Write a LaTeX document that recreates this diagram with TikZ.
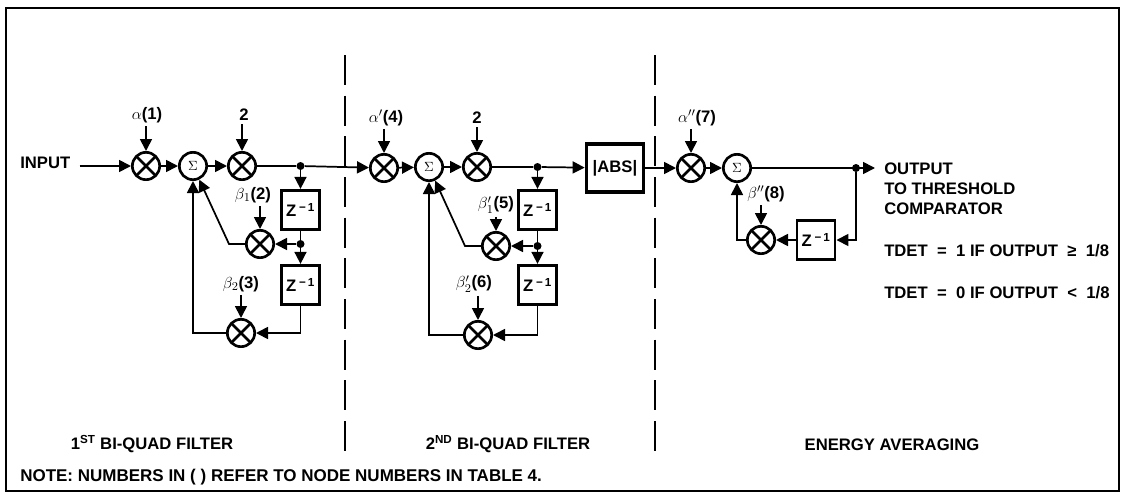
\documentclass[tikz,border=0pt]{standalone}
\usepackage{amsmath,amssymb}
\usepackage{fontspec}
\setmainfont{Liberation Sans}
\usetikzlibrary{arrows.meta,positioning,calc}

\tikzset{
  wire/.style={line width=1.3pt,-{Triangle[length=9pt,width=9pt]}},
  plainwire/.style={line width=1.3pt},
  mulnode/.style={circle,draw,line width=2pt,minimum size=20.5pt,inner sep=0pt,
    path picture={\draw[line width=2pt] (path picture bounding box.north west) -- (path picture bounding box.south east)
      (path picture bounding box.north east) -- (path picture bounding box.south west);}},
  sumnode/.style={circle,draw,line width=2pt,minimum size=20.5pt,inner sep=0pt,font=\normalsize},
  delaybox/.style={draw,line width=2.2pt,minimum width=28.5pt,minimum height=29.5pt,inner sep=0pt,font=\bfseries\fontsize{12.5}{14}\selectfont},
  dotnode/.style={circle,fill,minimum size=6pt,inner sep=0pt},
  lbl/.style={font=\bfseries\fontsize{12.5}{15}\selectfont,inner sep=0pt},
  divider/.style={line width=1.3pt,dash pattern=on 22.5pt off 8pt},
}
\newcommand{\zinv}{Z\,\textsuperscript{\char"2212\,1}}
\newcommand{\eqgap}{\hspace{7pt}}

\begin{document}
\begin{tikzpicture}[x=0.75pt,y=-0.75pt]
\useasboundingbox (0,0) rectangle (1122,493);
\draw[line width=1.5pt] (6,8) rectangle (1119,491);
\draw[divider] (345,55) -- (345,454);
\draw[divider] (655,55) -- (655,454);

% first filter
\node[lbl,anchor=west] (input) at (20,163) {INPUT};
\node[mulnode] (m1) at (146,166) {};
\node[sumnode] (s1) at (193,166) {$\Sigma$};
\node[mulnode] (m2) at (242,166) {};
\node[dotnode] (j1) at (300.5,166) {};
\node[delaybox] (z1) at (300.5,210) {\zinv};
\node[dotnode] (j2) at (300.5,244) {};
\node[delaybox] (z2) at (300.5,285) {\zinv};
\node[mulnode] (m3) at (260,244) {};
\node[mulnode] (m4) at (241,333) {};
\coordinate (c1) at (229,244);
\coordinate (c2) at (193,333);
\coordinate (c3) at (300.5,333);

% second filter
\node[mulnode] (m5) at (384,168) {};
\node[sumnode] (s2) at (429,167) {$\Sigma$};
\node[mulnode] (m6) at (477,167) {};
\node[dotnode] (j3) at (537.5,167) {};
\node[delaybox] (z3) at (537.5,210) {\zinv};
\node[dotnode] (j4) at (537.5,246) {};
\node[delaybox] (z4) at (537.5,285) {\zinv};
\node[mulnode] (m7) at (496,246) {};
\node[mulnode] (m8) at (478,335) {};
\node[draw,line width=2.5pt,minimum width=43pt,minimum height=36pt,inner sep=0pt,lbl] (abs) at (615,168) {|ABS|};
\coordinate (c4) at (465,246);
\coordinate (c5) at (429,335);
\coordinate (c6) at (537.5,335);

% energy averaging
\node[mulnode] (m9) at (691,168) {};
\node[sumnode] (s3) at (737,168) {$\Sigma$};
\node[dotnode] (j5) at (856,168) {};
\coordinate (out) at (875,168);
\node[delaybox] (z5) at (816,240) {\zinv};
\node[mulnode] (m10) at (761,240) {};
\coordinate (c7) at (737,240);
\coordinate (c8) at (856,240);

% coefficients
\node[lbl] (a1) at (147,115) {$\alpha$(1)};
\node[lbl] (a2) at (244,115) {2};
\node[lbl] (a3) at (253,195) {$\beta_1$(2)};
\node[lbl] (a4) at (241,284) {$\beta_2$(3)};
\node[lbl] (a5) at (386,118) {$\alpha'$(4)};
\node[lbl] (a6) at (477,118) {2};
\node[lbl] (a7) at (496,205) {$\beta_1'$(5)};
\node[lbl] (a8) at (474,284) {$\beta_2'$(6)};
\node[lbl] (a9) at (697,118) {$\alpha''$(7)};
\node[lbl] (a10) at (766,194) {$\beta''$(8)};

\draw[wire] (input.east)+(9,3) -- (m1);
\foreach \from/\to in {m1/s1,s1/m2,m5/s2,s2/m6,m9/s3,j2/m3,j4/m7,z5/m10}
  \draw[wire] (\from) -- (\to);
\foreach \from/\to in {a1/m1,a2/m2,a3/m3,a4/m4,a5/m5,a6/m6,a7/m7,a8/m8,a9/m9,a10/m10}
  \draw[wire] ($(\from.south -| \to)+(0,3)$) -- (\to);
\draw[wire] (m2) -- (j1) -- (m5);
\draw[wire] (j1) -- (z1);
\draw[plainwire] (z1) -- (j2);
\draw[wire] (j2) -- (z2);
\draw[wire] (m3) -- (c1) -- (s1);
\draw[wire] (z2) -- (c3) -- (m4);
\draw[wire] (m4) -- (c2) -- (s1);
\draw[wire] (m6) -- (j3) -- (abs);
\draw[wire] (j3) -- (z3);
\draw[plainwire] (z3) -- (j4);
\draw[wire] (j4) -- (z4);
\draw[wire] (m7) -- (c4) -- (s2);
\draw[wire] (z4) -- (c6) -- (m8);
\draw[wire] (m8) -- (c5) -- (s2);
\draw[wire] (abs) -- (m9);
\draw[wire] (s3) -- (out);
\draw[wire] (j5) -- (c8) -- (z5);
\draw[wire] (m10) -- (c7) -- (s3);

% text
\node[lbl,anchor=west,align=left] (outtxt) at (884,189) {OUTPUT\\TO THRESHOLD\\COMPARATOR};
\node[lbl,anchor=west] (t1) at (884,251) {TDET\eqgap=\eqgap 1 IF OUTPUT\eqgap≥\eqgap 1/8};
\node[lbl,anchor=west] (t2) at (884,293) {TDET\eqgap=\eqgap 0 IF OUTPUT\eqgap<\eqgap 1/8};
\node[lbl] (f1) at (152,444) {1\textsuperscript{ST} BI-QUAD FILTER};
\node[lbl] (f2) at (508,444) {2\textsuperscript{ND} BI-QUAD FILTER};
\node[lbl] (f3) at (892,445) {ENERGY AVERAGING};
\node[lbl,anchor=west,font=\bfseries\fontsize{12.75}{15}\selectfont] (note) at (20,477) {NOTE: NUMBERS IN ( ) REFER TO NODE NUMBERS IN TABLE 4.};
\end{tikzpicture}
\end{document}
